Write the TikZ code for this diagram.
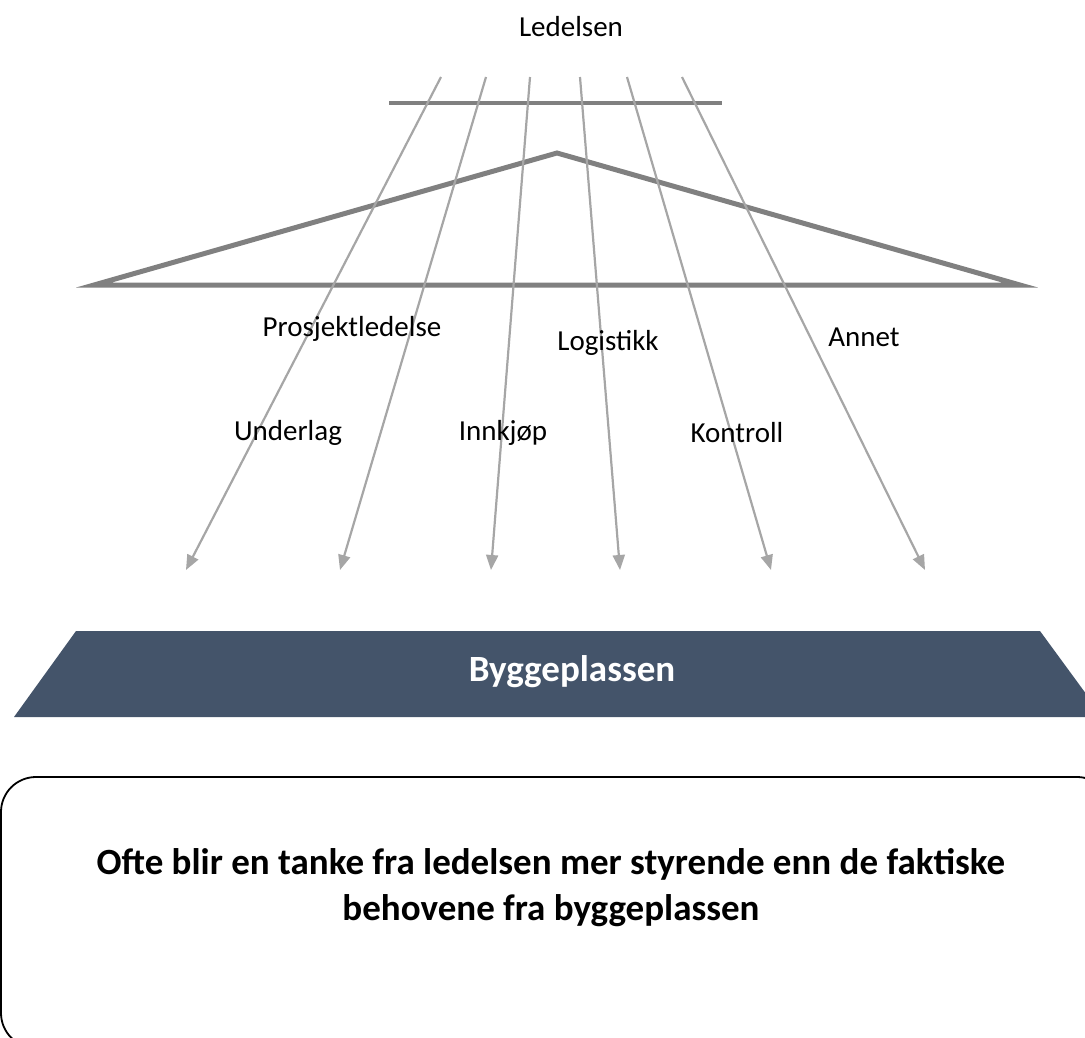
\documentclass[tikz,border=0pt]{standalone}
\usepackage{fontspec}
\setmainfont{Carlito}
\usetikzlibrary{arrows.meta}
\definecolor{arrowgray}{HTML}{A6A6A6}
\definecolor{framegray}{HTML}{808080}
\definecolor{slate}{HTML}{44546A}
\tikzset{
  arr/.style={draw=arrowgray, line width=2.2pt, -{Triangle[length=15pt,width=12pt]}},
  lbl/.style={font=\fontsize{29}{34}\selectfont, text=black, inner sep=0pt},
  frame/.style={draw=framegray, line width=5pt, miter limit=20}
}
\begin{document}
\begin{tikzpicture}[x=1pt,y=-1pt]
\useasboundingbox (0,0) rectangle (1085,1038);
\clip (0,0) rectangle (1085,1038);

% top title
\node[lbl] (ledelsen) at (571,27) {Ledelsen};

% horizontal bar
\coordinate (barL) at (389,103);
\coordinate (barR) at (722,103);
\draw[draw=framegray, line width=4pt] (barL) -- (barR);

% triangle
\coordinate (tL) at (94,285);
\coordinate (tT) at (557,153);
\coordinate (tR) at (1020,285);
\draw[frame, line join=miter] (tL) -- (tT) -- (tR) -- cycle;

% arrows
\coordinate (s1) at (441,77); \coordinate (e1) at (186,570);
\coordinate (s2) at (486,77); \coordinate (e2) at (340,570);
\coordinate (s3) at (530,77); \coordinate (e3) at (491,570);
\coordinate (s4) at (580,77); \coordinate (e4) at (620,570);
\coordinate (s5) at (627,77); \coordinate (e5) at (771,570);
\coordinate (s6) at (682,77); \coordinate (e6) at (925,570);
\foreach \i in {1,...,6} {\draw[arr] (s\i) -- (e\i);}

% labels
\node[lbl] (prosj) at (352,329) {Prosjektledelse};
\node[lbl] (logist) at (608,343) {Logistikk};
\node[lbl] (annet) at (864,337) {Annet};
\node[lbl] (underlag) at (288,433) {Underlag};
\node[lbl] (innkjop) at (503,433) {Innkjøp};
\node[lbl] (kontroll) at (737,433) {Kontroll};

% Byggeplassen trapezoid
\fill[slate] (76,631) -- (1040,631) -- (1103,717) -- (14,717) -- cycle;
\node[font=\bfseries\fontsize{37}{44}\selectfont, text=white, inner sep=0pt] (bygg) at (572,672) {Byggeplassen};

% bottom rounded box
\draw[black, line width=1.8pt, rounded corners=35pt] (1,777) rectangle (1112,1048);
\node[font=\bfseries\fontsize{37}{46}\selectfont, align=center, inner sep=0pt] (msg) at (551,888)
  {Ofte blir en tanke fra ledelsen mer styrende enn de faktiske\\behovene fra byggeplassen};
\end{tikzpicture}
\end{document}
